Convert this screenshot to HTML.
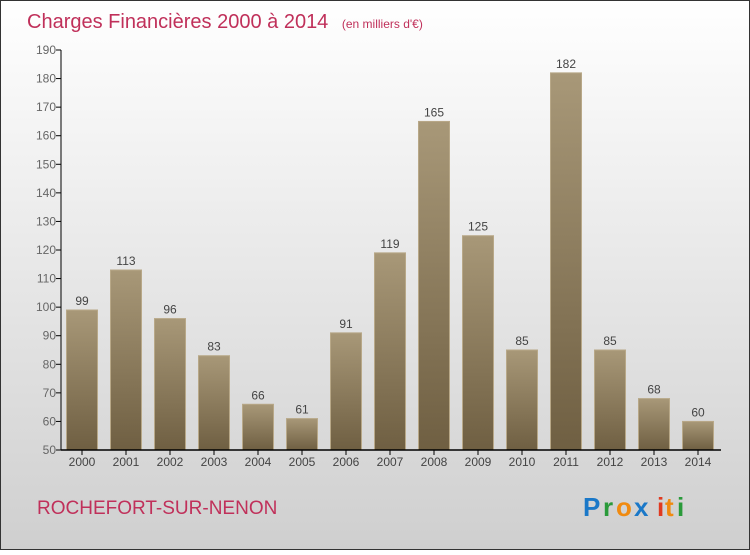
<!DOCTYPE html>
<html><head><meta charset="utf-8"><style>
body{margin:0;width:750px;height:550px;overflow:hidden;font-family:"Liberation Sans",sans-serif}
</style></head><body>
<svg width="750" height="550" xmlns="http://www.w3.org/2000/svg">
<defs>
<linearGradient id="bg" x1="0" y1="0" x2="0" y2="1"><stop offset="0" stop-color="#ffffff"/><stop offset="1" stop-color="#cfcfcf"/></linearGradient>
<linearGradient id="bar" x1="0" y1="0" x2="0" y2="1"><stop offset="0" stop-color="#a89878"/><stop offset="1" stop-color="#6f5f42"/></linearGradient>
</defs>
<rect x="0.5" y="0.5" width="749" height="549" fill="url(#bg)" stroke="#333"/>
<text x="27" y="28" font-size="20" fill="#c0305a">Charges Financières 2000 à 2014 <tspan font-size="12" dx="8">(en milliers d'€)</tspan></text>
<g id="plot"></g>
<text x="37" y="514" font-size="19" fill="#c0305a">ROCHEFORT-SUR-NENON</text>
<g font-size="26" font-weight="bold">
<text x="583" y="516" fill="#1a78c8">P</text><text x="603" y="516" fill="#2a9a3a">r</text><text x="616" y="516" fill="#f08a10">o</text><text x="634" y="516" fill="#1a78c8">x</text><text x="657" y="516" fill="#e03a20">i</text><text x="665" y="516" fill="#f08a10">t</text><text x="677" y="516" fill="#2a9a3a">i</text>
</g>
</svg>
<script>
const categories=["2000","2001","2002","2003","2004","2005","2006","2007","2008","2009","2010","2011","2012","2013","2014"];
const values=[99,113,96,83,66,61,91,119,165,125,85,182,85,68,60];
const yTicks=[50,60,70,80,90,100,110,120,130,140,150,160,170,180,190];
const NS="http://www.w3.org/2000/svg";
const g=document.getElementById("plot");
const x0=60,step=44,bw=31,yMin=50,yMax=190,yTop=50,yBot=450;
const y=v=>yBot-(v-yMin)/(yMax-yMin)*(yBot-yTop);
const xc=i=>x0+step*i+step/2;
function mk(t,a){const e=document.createElementNS(NS,t);for(const k in a)e.setAttribute(k,a[k]);g.appendChild(e);return e;}
yTicks.forEach(t=>{
 const l=mk("line",{x1:56,x2:61,y1:y(t),y2:y(t),stroke:"#000"});
 
 
 const tx=mk("text",{x:56,y:y(t)+4,"text-anchor":"end","font-size":12,fill:"#666"});tx.textContent=t;
 
 
});
values.forEach((v,i)=>{
 const r=mk("rect",{x:xc(i)-bw/2,y:y(v),width:bw,height:yBot-y(v),fill:"url(#bar)",stroke:"#b8a888","stroke-width":1});
 
 
 const lb=mk("text",{x:xc(i),y:y(v)-5,"text-anchor":"middle","font-size":12,fill:"#444"});lb.textContent=v;
 
 
 const tk=mk("line",{x1:xc(i),x2:xc(i),y1:450,y2:455,stroke:"#000"});
 
 
 const cl=mk("text",{x:xc(i),y:466,"text-anchor":"middle","font-size":12,fill:"#444"});cl.textContent=categories[i];
 
 
});
const ya=mk("line",{x1:61,x2:61,y1:yTop,y2:yBot,stroke:"#000"});


const xa=mk("line",{x1:61,x2:x0+step*categories.length+1,y1:yBot,y2:yBot,stroke:"#000","stroke-width":1.5});


</script>
</body></html>
